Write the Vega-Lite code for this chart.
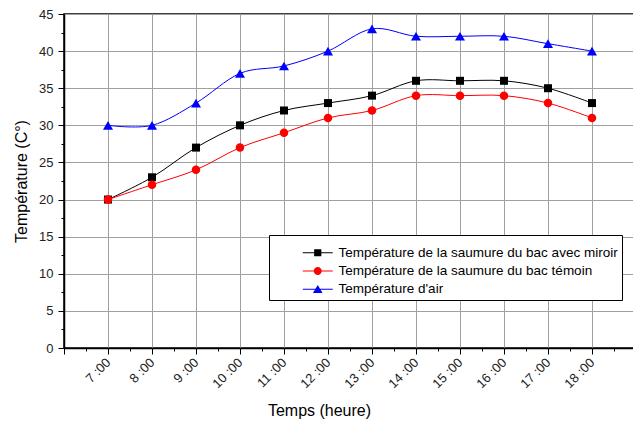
{
  "$schema": "https://vega.github.io/schema/vega-lite/v6.json",
  "width": 570,
  "height": 334,
  "autosize": "none",
  "padding": {"left": 64, "top": 14, "right": 0, "bottom": 75},
  "background": "white",
  "config": {
    "view": {"stroke": "black", "strokeWidth": 1.5},
    "font": "Liberation Sans"
  },
  "data": {
    "values": [
      {"h": 7, "s": "Température de la saumure du bac avec miroir", "t": 20},
      {"h": 8, "s": "Température de la saumure du bac avec miroir", "t": 23},
      {"h": 9, "s": "Température de la saumure du bac avec miroir", "t": 27},
      {"h": 10, "s": "Température de la saumure du bac avec miroir", "t": 30},
      {"h": 11, "s": "Température de la saumure du bac avec miroir", "t": 32},
      {"h": 12, "s": "Température de la saumure du bac avec miroir", "t": 33},
      {"h": 13, "s": "Température de la saumure du bac avec miroir", "t": 34},
      {"h": 14, "s": "Température de la saumure du bac avec miroir", "t": 36},
      {"h": 15, "s": "Température de la saumure du bac avec miroir", "t": 36},
      {"h": 16, "s": "Température de la saumure du bac avec miroir", "t": 36},
      {"h": 17, "s": "Température de la saumure du bac avec miroir", "t": 35},
      {"h": 18, "s": "Température de la saumure du bac avec miroir", "t": 33},
      {"h": 7, "s": "Température de la saumure du bac témoin", "t": 20},
      {"h": 8, "s": "Température de la saumure du bac témoin", "t": 22},
      {"h": 9, "s": "Température de la saumure du bac témoin", "t": 24},
      {"h": 10, "s": "Température de la saumure du bac témoin", "t": 27},
      {"h": 11, "s": "Température de la saumure du bac témoin", "t": 29},
      {"h": 12, "s": "Température de la saumure du bac témoin", "t": 31},
      {"h": 13, "s": "Température de la saumure du bac témoin", "t": 32},
      {"h": 14, "s": "Température de la saumure du bac témoin", "t": 34},
      {"h": 15, "s": "Température de la saumure du bac témoin", "t": 34},
      {"h": 16, "s": "Température de la saumure du bac témoin", "t": 34},
      {"h": 17, "s": "Température de la saumure du bac témoin", "t": 33},
      {"h": 18, "s": "Température de la saumure du bac témoin", "t": 31},
      {"h": 7, "s": "Température d'air", "t": 30},
      {"h": 8, "s": "Température d'air", "t": 30},
      {"h": 9, "s": "Température d'air", "t": 33},
      {"h": 10, "s": "Température d'air", "t": 37},
      {"h": 11, "s": "Température d'air", "t": 38},
      {"h": 12, "s": "Température d'air", "t": 40},
      {"h": 13, "s": "Température d'air", "t": 43},
      {"h": 14, "s": "Température d'air", "t": 42},
      {"h": 15, "s": "Température d'air", "t": 42},
      {"h": 16, "s": "Température d'air", "t": 42},
      {"h": 17, "s": "Température d'air", "t": 41},
      {"h": 18, "s": "Température d'air", "t": 40}
    ]
  },
  "encoding": {
    "x": {
      "field": "h",
      "type": "quantitative",
      "scale": {"domain": [6, 18.955], "nice": false, "zero": false},
      "axis": {
        "title": "Temps (heure)",
        "titleFont": "Liberation Sans",
        "titleFontSize": 16,
        "titleFontWeight": "normal",
        "titleColor": "black",
        "titleX": 255,
        "titleY": 67,
        "titleBaseline": "alphabetic",
        "titleAnchor": "start",
        "titleAlign": "center",
        "values": [6, 6.5, 7, 7.5, 8, 8.5, 9, 9.5, 10, 10.5, 11, 11.5, 12, 12.5, 13, 13.5, 14, 14.5, 15, 15.5, 16, 16.5, 17, 17.5, 18, 18.5],
        "labelExpr": "(datum.value % 1 === 0 && datum.value >= 7) ? datum.value + ' :00' : ''",
        "labelAngle": -45,
        "labelAlign": "right",
        "labelBaseline": "middle",
        "labelPadding": 6,
        "labelFontSize": 13,
        "labelColor": "#222",
        "labelOverlap": false,
        "labelFlush": false,
        "domainColor": "black",
        "domainWidth": 1.5,
        "tickColor": "black",
        "tickSize": {"condition": {"test": "datum.value % 1 === 0", "value": 6}, "value": 3},
        "grid": true,
        "gridColor": "#a0a0a0",
        "gridWidth": 1,
        "gridOpacity": {"condition": {"test": "datum.value % 1 === 0", "value": 1}, "value": 0}
      }
    },
    "y": {
      "field": "t",
      "type": "quantitative",
      "scale": {"domain": [0, 45], "nice": false},
      "axis": {
        "title": "Température (C°)",
        "titleFont": "Liberation Sans",
        "titleFontSize": 16,
        "titleFontWeight": "normal",
        "titleColor": "black",
        "titlePadding": 9,
        "values": [0, 2.5, 5, 7.5, 10, 12.5, 15, 17.5, 20, 22.5, 25, 27.5, 30, 32.5, 35, 37.5, 40, 42.5, 45],
        "labelExpr": "datum.value % 5 === 0 ? datum.value : ''",
        "labelFontSize": 13,
        "labelColor": "#222",
        "labelPadding": 5,
        "labelOverlap": false,
        "labelFlush": false,
        "domainColor": "black",
        "domainWidth": 1.5,
        "tickColor": "black",
        "tickSize": {"condition": {"test": "datum.value % 5 === 0", "value": 6}, "value": 3},
        "grid": true,
        "gridColor": "#a0a0a0",
        "gridWidth": 1,
        "gridOpacity": {"condition": {"test": "datum.value % 5 === 0", "value": 1}, "value": 0}
      }
    }
  },
  "layer": [
    {
      "mark": {"type": "line", "interpolate": "cardinal", "strokeWidth": 1, "clip": true},
      "encoding": {
        "color": {
          "field": "s",
          "type": "nominal",
          "scale": {
            "domain": ["Température de la saumure du bac avec miroir", "Température de la saumure du bac témoin", "Température d'air"],
            "range": ["#000000", "#ff0000", "#0000ff"]
          },
          "legend": {
            "orient": "none",
            "legendX": 205,
            "legendY": 221,
            "title": " ",
            "titleFontSize": 5,
            "titlePadding": 2,
            "strokeColor": "black",
            "fillColor": "white",
            "padding": 4,
            "labelFont": "Liberation Sans",
            "labelFontSize": 13.5,
            "labelColor": "black",
            "labelLimit": 400,
            "symbolSize": 64,
            "symbolStrokeWidth": 0,
            "symbolOffset": 38,
            "labelOffset": 14,
            "rowPadding": 3.2,
            "encode": {
              "symbols": {
                "update": {
                  "shape": {"signal": "indexof(datum.value, 'miroir') >= 0 ? 'M-3.75,-0.13H3.75V0.13H-3.75Z M-0.9,-0.9H0.9V0.9H-0.9Z' : (indexof(datum.value, 'moin') >= 0 ? 'M-3.75,-0.13H3.75V0.13H-3.75Z M1,0 A1,1 0 1,1 -1,0 A1,1 0 1,1 1,0 Z' : 'M-3.75,-0.13H3.75V0.13H-3.75Z M0,-1.05 L1.2,0.95 L-1.2,0.95 Z')"},
                  "fill": {"scale": "color", "field": "value"},
                  "fillOpacity": {"value": 1},
                  "strokeWidth": {"value": 0},
                  "opacity": {"value": 1}
                }
              }
            }
          }
        }
      }
    },
    {
      "transform": [{"filter": {"field": "s", "equal": "Température de la saumure du bac avec miroir"}}],
      "mark": {"type": "point", "shape": "square", "filled": true, "color": "#000000", "opacity": 1, "size": 64}
    },
    {
      "transform": [{"filter": {"field": "s", "equal": "Température de la saumure du bac témoin"}}],
      "mark": {"type": "point", "shape": "circle", "filled": true, "color": "#ff0000", "opacity": 1, "size": 72}
    },
    {
      "transform": [{"filter": {"field": "s", "equal": "Température d'air"}}],
      "mark": {"type": "point", "shape": "triangle-up", "filled": true, "color": "#0000ff", "opacity": 1, "size": 100}
    }
  ]
}
